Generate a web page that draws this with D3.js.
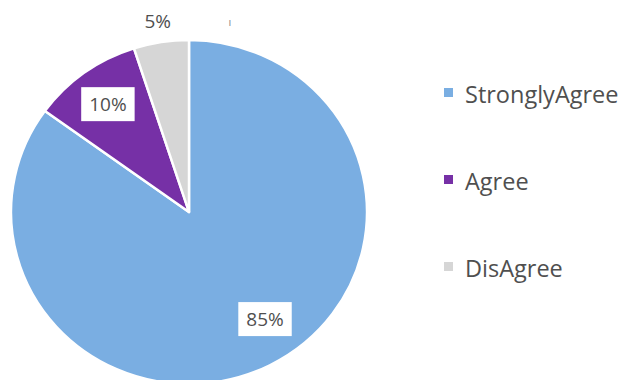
<!DOCTYPE html>
<html>
<head>
<meta charset="utf-8">
<script src="https://cdn.jsdelivr.net/npm/d3@7"></script>
<style>
  html, body { margin: 0; padding: 0; background: #ffffff; }
  svg { display: block; }
</style>
</head>
<body>
<svg id="chart" width="626" height="380"></svg>
<script>
// ---- data ----
const categories = ["StronglyAgree", "Agree", "DisAgree"];
const values = [85, 10, 5];
const labels = ["85%", "10%", "5%"];

// ---- layout / style ----
const colors = ["#7aaee2", "#7630a6", "#d6d6d6"];
const W = 626, H = 380;
const cx = 189, cy = 212, R = 178, yScale = 172 / 178;
const textColor = "#4f4f4f";
const font = "'Open Sans', sans-serif";

const svg = d3.select("#chart");

const pie = d3.pie().sort(null).value(d => d)(values);
const arc = d3.arc().innerRadius(0).outerRadius(R);

const g = svg.append("g").attr("transform", `translate(${cx},${cy}) scale(1,${yScale})`);
g.selectAll("path.slice").data(pie).join("path")
  .attr("class", "slice")
  .attr("d", arc)
  .attr("fill", (d, i) => colors[i])
  .attr("stroke", "#ffffff")
  .attr("stroke-width", 2.5)
  .attr("stroke-linejoin", "round");

// label positions (in screen coords, accounting for vertical squash)
function pos(angle, r) {
  return [cx + r * Math.sin(angle), cy - r * Math.cos(angle) * yScale];
}
const labelGroup = svg.append("g");
pie.forEach((d, i) => {
  const mid = (d.startAngle + d.endAngle) / 2;
  let p, boxed = true;
  if (d.endAngle - d.startAngle < 0.4) {
    // small slice: outside label
    p = pos(mid, R + 22);
    boxed = false;
  } else if (d.endAngle - d.startAngle > 3.5) {
    // large slice: Excel best-fit places it toward the lower right
    p = pos(mid - 0.13, 0.755 * R);
  } else {
    p = pos(mid, 0.775 * R);
  }
  const lg = labelGroup.append("g").attr("transform", `translate(${p[0]},${p[1]})`);
  const t = lg.append("text")
    .attr("text-anchor", "middle")
    .attr("dy", "0.36em")
    .attr("font-family", font)
    .attr("font-size", 19)
    .attr("fill", textColor)
    .text(labels[i]);
  if (boxed) {
    const bw = t.node().getComputedTextLength() + 16;
    lg.insert("rect", "text")
      .attr("x", -bw / 2).attr("y", -17)
      .attr("width", bw).attr("height", 34)
      .attr("fill", "#ffffff");
  }
});

// stray mark near the top
svg.append("text")
  .attr("x", 230).attr("y", 26)
  .attr("text-anchor", "middle")
  .attr("font-family", font)
  .attr("font-size", 11)
  .attr("fill", "#8a8a8a")
  .text("ı");

// ---- legend ----
const legY = d3.scalePoint().domain(categories).range([103, 277]);
const leg = svg.append("g");
categories.forEach((c, i) => {
  const y = legY(c);
  leg.append("rect")
    .attr("x", 444).attr("y", y - 15)
    .attr("width", 9).attr("height", 9)
    .attr("fill", colors[i]);
  leg.append("text")
    .attr("x", 465).attr("y", y)
    .attr("font-family", font)
    .attr("font-size", 23.5)
    .attr("fill", textColor)
    .text(c);
});
</script>
</body>
</html>
